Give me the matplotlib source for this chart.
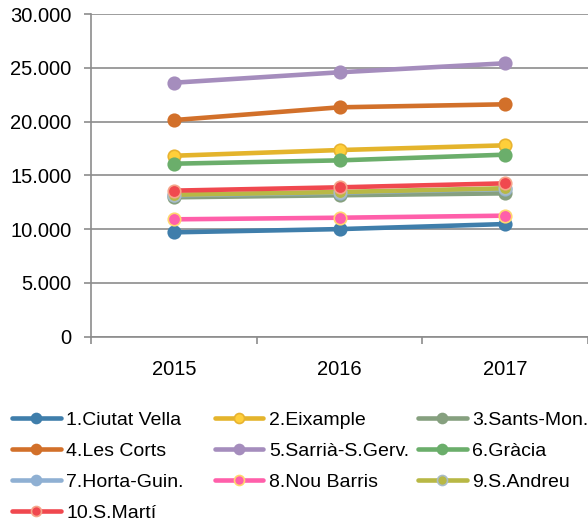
import matplotlib
matplotlib.use('Agg')
import matplotlib.pyplot as plt
from matplotlib.ticker import FuncFormatter, FixedLocator
import numpy as np

plt.rcParams['font.family'] = ['Liberation Sans', 'DejaVu Sans']

years = ['2015', '2016', '2017']

districts = ['1.Ciutat Vella', '2.Eixample', '3.Sants-Mon.', '4.Les Corts',
             '5.Sarrià-S.Gerv.', '6.Gràcia', '7.Horta-Guin.', '8.Nou Barris',
             '9.S.Andreu', '10.S.Martí']

ciutat_vella = [9700, 10000, 10470]
eixample = [16830, 17360, 17800]
sants = [12960, 13150, 13330]
les_corts = [20150, 21340, 21620]
sarria = [23630, 24600, 25440]
gracia = [16090, 16400, 16930]
horta = [13150, 13400, 13750]
nou_barris = [10910, 11060, 11250]
sant_andreu = [13200, 13450, 13800]
sant_marti = [13580, 13890, 14260]

series = [ciutat_vella, eixample, sants, les_corts, sarria,
          gracia, horta, nou_barris, sant_andreu, sant_marti]

# line colour, marker face, marker edge
colors = [
    ('#3F7EAB', '#3F7EAB', '#3F7EAB'),
    ('#E4B42C', '#FFCF3A', '#E8B330'),
    ('#86A07F', '#86A07F', '#86A07F'),
    ('#D2702A', '#D2702A', '#D2702A'),
    ('#A58DBD', '#A58DBD', '#A58DBD'),
    ('#6BAE6B', '#6BAE6B', '#6BAE6B'),
    ('#8FB0D3', '#8FB0D3', '#8FB0D3'),
    ('#FF5FAA', '#FF5FAA', '#FFD66E'),
    ('#B8B845', '#B8B845', '#A9BCC6'),
    ('#F0484F', '#F0484F', '#F6A58A'),
]

fig = plt.figure(figsize=(5.88, 5.23), dpi=100)
ax = fig.add_axes([91/588, 1-336.5/523, (588-91)/588, (336.5-14.3)/523])

x = np.arange(len(years))
handles = []
for vals, name, (lc, mf, me) in zip(series, districts, colors):
    h, = ax.plot(x, vals, color=lc, lw=3.3, marker='o', ms=9,
                 markerfacecolor=mf, markeredgecolor=me, mew=1.2,
                 label=name, solid_capstyle='round')
    handles.append(h)

ax.set_xlim(-0.5, 2.5)
ax.set_ylim(0, 30000)
ax.yaxis.set_major_locator(FixedLocator(range(0, 30001, 5000)))
ax.yaxis.set_major_formatter(FuncFormatter(lambda v, p: f'{int(v):,}'.replace(',', '.')))
ax.grid(axis='y', color='#8C8C8C', lw=1.2)
ax.set_axisbelow(True)

ax.set_xticks([-0.5, 0.5, 1.5, 2.5])
ax.set_xticklabels([])
ax.set_xticks(x, minor=True)
ax.set_xticklabels(years, minor=True)
ax.tick_params(axis='x', which='minor', length=0, pad=17, labelsize=14.5)
ax.tick_params(axis='x', which='major', length=5, width=1.2, color='#8C8C8C')
ax.tick_params(axis='y', length=5, width=1.2, color='#8C8C8C', pad=9, labelsize=14.5)

for s in ['top', 'right']:
    ax.spines[s].set_visible(False)
for s in ['left', 'bottom']:
    ax.spines[s].set_color('#8C8C8C')
    ax.spines[s].set_linewidth(1.2)

# three fixed-width legend columns, filled row by row
col_x = [12/588, 214.5/588, 418/588]
for c in range(3):
    hs = handles[c::3]
    leg = fig.legend(handles=hs, labels=[h.get_label() for h in hs],
                     loc='upper left', bbox_to_anchor=(col_x[c], 1-411/523),
                     frameon=False, borderpad=0, borderaxespad=0,
                     handlelength=2.5, handletextpad=0.3, labelspacing=0.7,
                     markerscale=0.8, fontsize=14)

fig.savefig('out.png', dpi=100)
